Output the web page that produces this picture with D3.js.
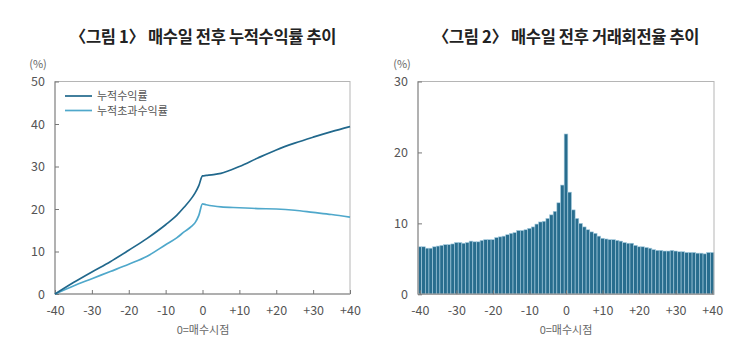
<!DOCTYPE html>
<html><head><meta charset="utf-8">
<script src="https://cdn.jsdelivr.net/npm/d3@7"></script>
<style>
body{margin:0;background:#fff;}
svg{display:block;font-family:"Noto Sans CJK KR","Noto Sans",sans-serif;}
</style></head>
<body>
<svg id="c" width="750" height="364"></svg>
<script>
// ---- Chart 1 data ----
const lineDays = [-40,-35,-30,-25,-20,-15,-10,-7,-5,-3,-2,-1,0,1,3,5,10,15,20,25,30,35,40];
const cumReturn = [0,2.7,5.2,7.6,10.3,13.1,16.3,18.5,20.4,22.5,23.8,25.5,27.8,27.9,28.1,28.4,30.0,32.0,33.9,35.5,36.9,38.2,39.4];
const cumExcess = [0,1.9,3.6,5.3,7.0,8.9,11.6,13.2,14.6,15.9,16.8,18.5,21.2,21.0,20.7,20.5,20.3,20.1,20.0,19.7,19.2,18.7,18.1];
const seriesNames = ["누적수익률","누적초과수익률"];
const yTicks1 = [0,10,20,30,40,50];
// ---- Chart 2 data ----
const barDays = d3.range(-40,41);
const turnover = [6.7,6.7,6.5,6.5,6.7,6.8,6.9,7.0,7.0,7.1,7.3,7.3,7.2,7.3,7.5,7.4,7.4,7.6,7.7,7.7,
  7.7,8.0,8.1,8.2,8.4,8.6,8.7,9.0,9.0,
  9.1,9.3,9.5,9.9,10.2,10.3,10.7,11.2,11.7,12.9,15.4,22.6,14.4,11.9,10.7,10.0,9.5,9.1,8.8,8.6,8.2,7.9,7.8,7.7,7.7,
  7.6,7.5,7.3,7.2,7.2,6.9,6.7,6.7,6.6,6.5,6.3,6.2,6.2,6.1,6.1,6.2,6.1,6.0,6.0,5.9,5.9,5.9,5.8,5.8,5.7,5.9,5.9];
const yTicks2 = [0,10,20,30];
const xTicks = [-40,-30,-20,-10,0,10,20,30,40];
const titles = ["〈그림 1〉 매수일 전후 누적수익률 추이","〈그림 2〉 매수일 전후 거래회전율 추이"];
const xLabel = "0=매수시점";
const unit = "(%)";

const svg = d3.select("#c");
const fmtX = d => d > 0 ? "+" + d : String(d);
const darkC = "#21688c", lightC = "#4fa8cb";

function title(g, cx, i) {
  g.append("text").attr("x", cx).attr("y", 43).attr("text-anchor", "middle")
    .attr("font-size", 16.5).attr("font-weight", "bold").attr("fill", "#222")
    .attr("letter-spacing", -0.35).text(titles[i]);
}

function frame(g, x, y, yTicks, x0, x1, y0, y1) {
  g.append("rect").attr("x", x0).attr("y", y1).attr("width", x1 - x0).attr("height", y0 - y1)
    .attr("fill", "none").attr("stroke", "#b5b5b5").attr("stroke-width", 1);
  g.append("line").attr("x1", x0).attr("x2", x1).attr("y1", y0).attr("y2", y0).attr("stroke", "#a0a0a0").attr("stroke-width", 1.6);
  g.append("line").attr("x1", x0).attr("x2", x0).attr("y1", y0).attr("y2", y1).attr("stroke", "#a0a0a0").attr("stroke-width", 1.4);
  const ax = g.append("g").attr("transform", `translate(0,${y0})`)
    .call(d3.axisBottom(x).tickValues(xTicks).tickSize(-4).tickPadding(12).tickFormat(fmtX));
  ax.select(".domain").remove();
  ax.selectAll("line").attr("stroke", "#777");
  ax.selectAll("text").attr("font-size", 12.5).attr("fill", "#555").attr("font-family", "'Noto Sans CJK KR'");
  const ay = g.append("g").attr("transform", `translate(${x0},0)`)
    .call(d3.axisLeft(y).tickValues(yTicks).tickSize(-4).tickPadding(10));
  ay.select(".domain").remove();
  ay.selectAll("line").attr("stroke", "#777");
  ay.selectAll("text").attr("font-size", 12.5).attr("fill", "#555").attr("font-family", "'Noto Sans CJK KR'");
}

// ---- Chart 1 ----
{
  const x0 = 55, x1 = 350, y0 = 294, y1 = 81.5;
  const x = d3.scaleLinear().domain([-40, 40]).range([x0, x1]);
  const y = d3.scaleLinear().domain([0, 50]).range([y0, y1]);
  const g = svg.append("g");
  frame(g, x, y, yTicks1, x0, x1, y0, y1);
  const line = d3.line().x((d, i) => x(lineDays[i])).y(d => y(d)).curve(d3.curveMonotoneX);
  g.append("path").datum(cumExcess).attr("d", line).attr("fill", "none").attr("stroke", lightC).attr("stroke-width", 1.7);
  g.append("path").datum(cumReturn).attr("d", line).attr("fill", "none").attr("stroke", darkC).attr("stroke-width", 1.7);
  [darkC, lightC].forEach((c, i) => {
    const ly = 96 + i * 14.5;
    g.append("line").attr("x1", 65).attr("x2", 92).attr("y1", ly).attr("y2", ly).attr("stroke", c).attr("stroke-width", 1.7);
    g.append("text").attr("x", 97).attr("y", ly + 4).attr("font-size", 11).attr("fill", "#555").text(seriesNames[i]);
  });
  g.append("text").attr("x", 38).attr("y", 68).attr("text-anchor", "middle").attr("font-size", 11).attr("fill", "#666").text(unit);
  g.append("text").attr("x", 203).attr("y", 334).attr("text-anchor", "middle").attr("font-size", 11).attr("fill", "#666").text(xLabel);
  title(g, 203, 0);
}

// ---- Chart 2 ----
{
  const x0 = 418, x1 = 714, y0 = 294.3, y1 = 81.5;
  const band = d3.scaleBand().domain(barDays).range([x0, x1]).padding(0);
  const x = d3.scaleLinear().domain([-40.5, 40.5]).range([x0, x1]);
  const y = d3.scaleLinear().domain([0, 30]).range([y0, y1]);
  const g = svg.append("g");
  g.append("g").selectAll("rect").data(turnover).join("rect")
    .attr("x", (d, i) => band(barDays[i]))
    .attr("width", band.bandwidth())
    .attr("y", d => y(d)).attr("height", d => y(0) - y(d))
    .attr("fill", "#286d8e").attr("stroke", "#a7cde0").attr("stroke-width", 0.6);
  frame(g, x, y, yTicks2, x0, x1, y0, y1);
  g.append("text").attr("x", 402).attr("y", 68).attr("text-anchor", "middle").attr("font-size", 11).attr("fill", "#666").text(unit);
  g.append("text").attr("x", 566).attr("y", 334).attr("text-anchor", "middle").attr("font-size", 11).attr("fill", "#666").text(xLabel);
  title(g, 566, 1);
}
</script>
</body></html>
